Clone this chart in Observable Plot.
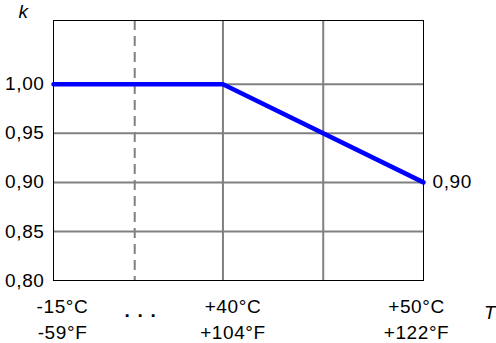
<!DOCTYPE html>
<html>
<head>
<meta charset="utf-8">
<script src="https://cdn.jsdelivr.net/npm/d3@7"></script>
<script src="https://cdn.jsdelivr.net/npm/@observablehq/plot@0.6"></script>
<style>
  html, body { margin: 0; padding: 0; background: #fff; }
  #chart svg { display: block; }
</style>
</head>
<body>
<div id="chart"></div>
<script>
// Axis positions (scale units): left edge stands for -15°C (broken axis), then +40..+50 °C
const tickPos = [31.55, 40, 50];
const tempC = ["-15°C", "+40°C", "+50°C"];
const tempF = ["-59°F", "+104°F", "+122°F"];
const breakPos = [35.6];          // dashed axis break
const gridX = [40, 45];           // solid vertical grid
const yTicks = [0.80, 0.85, 0.90, 0.95, 1.00];
const gridY = [0.85, 0.90, 0.95, 1.00];
// derating curve k(T)
const curveX = [31.55, 40, 50];
const curveK = [1.00, 1.00, 0.90];
const endLabel = ["0,90"];

const font = "'Liberation Sans', Arial, sans-serif";
const fs = 19;
const fmt = d => d.toFixed(2).replace(".", ",");
const curve = curveX.map((x, i) => ({x, k: curveK[i]}));
const labelDx = [9, 10, -7];

const marks = [
  Plot.ruleY(gridY, {stroke: "#808080", strokeWidth: 2}),
  Plot.ruleX(gridX, {stroke: "#808080", strokeWidth: 2}),
  Plot.ruleX(breakPos, {stroke: "#808080", strokeWidth: 2, strokeDasharray: "10,6"}),
  Plot.frame({stroke: "black", strokeWidth: 1}),
  Plot.axisY(yTicks, {tickSize: 0, tickPadding: 9, tickFormat: fmt, fontSize: fs, label: null}),
  Plot.line(curve, {x: "x", y: "k", stroke: "#0000ff", strokeWidth: 4.5}),
  Plot.text(endLabel, {x: curveX[2], y: curveK[2], text: d => d, textAnchor: "start", dx: 9, fontSize: fs}),
  ...tickPos.map((p, i) => Plot.text([tempC[i]], {x: p, frameAnchor: "bottom", text: d => d, lineAnchor: "bottom", dy: 32, dx: labelDx[i], fontSize: fs})),
  ...tickPos.map((p, i) => Plot.text([tempF[i]], {x: p, frameAnchor: "bottom", text: d => d, lineAnchor: "bottom", dy: 58, dx: labelDx[i], fontSize: fs})),
  Plot.text([". . ."], {x: breakPos[0], frameAnchor: "bottom", text: d => d, lineAnchor: "bottom", dy: 36, dx: 6, fontSize: 19, fontWeight: "bold"}),
  Plot.text(["k"], {frameAnchor: "top-left", text: d => d, textAnchor: "start", lineAnchor: "bottom", dx: -35, dy: -3, fontSize: fs, fontStyle: "italic"}),
  Plot.text(["T"], {frameAnchor: "bottom-right", text: d => d, textAnchor: "end", lineAnchor: "bottom", dx: 72, dy: 38, fontSize: fs, fontStyle: "italic"})
];

const chart = Plot.plot({
  width: 496,
  height: 343,
  marginLeft: 53,
  marginRight: 73,
  marginTop: 20,
  marginBottom: 63,
  style: {fontFamily: font, fontSize: fs + "px", color: "black", background: "white"},
  x: {domain: [31.55, 50], axis: null},
  y: {domain: [0.80, 1.065], axis: null},
  marks
});
chart.querySelectorAll("text").forEach(t => {
  const s = t.textContent;
  if (s === ". . .") t.style.letterSpacing = "1.2px";
  else if (s === "k" || s === "T") t.style.letterSpacing = "0px";
  else t.style.letterSpacing = "0.6px";
});
document.getElementById("chart").append(chart);
</script>
</body>
</html>
